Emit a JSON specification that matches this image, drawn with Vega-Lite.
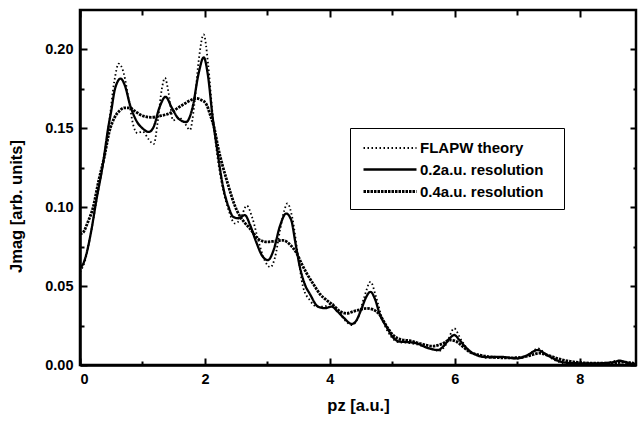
{
  "$schema": "https://vega.github.io/schema/vega-lite/v6.json",
  "width": 556,
  "height": 355,
  "autosize": {"type": "none"},
  "padding": {"left": 80, "top": 10, "right": 2, "bottom": 57},
  "background": "white",
  "config": {
    "font": "Liberation Sans",
    "view": {"stroke": "black", "strokeWidth": 2.5},
    "axis": {
      "labelFont": "Liberation Sans",
      "labelFontWeight": "bold",
      "labelFontSize": 14.5,
      "labelColor": "black",
      "titleFont": "Liberation Sans",
      "titleFontWeight": "bold",
      "titleFontSize": 16.5,
      "titleColor": "black",
      "domainColor": "black",
      "domainWidth": 2.5,
      "tickColor": "black",
      "tickWidth": 2,
      "grid": false
    }
  },
  "data": {
    "values": [
      {"p": 0, "J": 0.062, "series": "0.2a.u. resolution"},
      {"p": 0.05, "J": 0.064, "series": "0.2a.u. resolution"},
      {"p": 0.1, "J": 0.07, "series": "0.2a.u. resolution"},
      {"p": 0.18, "J": 0.085, "series": "0.2a.u. resolution"},
      {"p": 0.26, "J": 0.104, "series": "0.2a.u. resolution"},
      {"p": 0.37, "J": 0.128, "series": "0.2a.u. resolution"},
      {"p": 0.45, "J": 0.15, "series": "0.2a.u. resolution"},
      {"p": 0.5, "J": 0.161, "series": "0.2a.u. resolution"},
      {"p": 0.56, "J": 0.175, "series": "0.2a.u. resolution"},
      {"p": 0.65, "J": 0.1815, "series": "0.2a.u. resolution"},
      {"p": 0.72, "J": 0.177, "series": "0.2a.u. resolution"},
      {"p": 0.8, "J": 0.165, "series": "0.2a.u. resolution"},
      {"p": 0.9, "J": 0.155, "series": "0.2a.u. resolution"},
      {"p": 1.0, "J": 0.15, "series": "0.2a.u. resolution"},
      {"p": 1.1, "J": 0.1477, "series": "0.2a.u. resolution"},
      {"p": 1.18, "J": 0.151, "series": "0.2a.u. resolution"},
      {"p": 1.27, "J": 0.163, "series": "0.2a.u. resolution"},
      {"p": 1.37, "J": 0.17, "series": "0.2a.u. resolution"},
      {"p": 1.47, "J": 0.163, "series": "0.2a.u. resolution"},
      {"p": 1.58, "J": 0.156, "series": "0.2a.u. resolution"},
      {"p": 1.7, "J": 0.154, "series": "0.2a.u. resolution"},
      {"p": 1.8, "J": 0.163, "series": "0.2a.u. resolution"},
      {"p": 1.9, "J": 0.185, "series": "0.2a.u. resolution"},
      {"p": 1.98, "J": 0.195, "series": "0.2a.u. resolution"},
      {"p": 2.05, "J": 0.183, "series": "0.2a.u. resolution"},
      {"p": 2.12, "J": 0.158, "series": "0.2a.u. resolution"},
      {"p": 2.19, "J": 0.138, "series": "0.2a.u. resolution"},
      {"p": 2.29, "J": 0.113, "series": "0.2a.u. resolution"},
      {"p": 2.38, "J": 0.1, "series": "0.2a.u. resolution"},
      {"p": 2.45, "J": 0.094, "series": "0.2a.u. resolution"},
      {"p": 2.53, "J": 0.093, "series": "0.2a.u. resolution"},
      {"p": 2.64, "J": 0.095, "series": "0.2a.u. resolution"},
      {"p": 2.72, "J": 0.089, "series": "0.2a.u. resolution"},
      {"p": 2.82, "J": 0.078, "series": "0.2a.u. resolution"},
      {"p": 2.92, "J": 0.069, "series": "0.2a.u. resolution"},
      {"p": 3.01, "J": 0.0665, "series": "0.2a.u. resolution"},
      {"p": 3.1, "J": 0.073, "series": "0.2a.u. resolution"},
      {"p": 3.2, "J": 0.088, "series": "0.2a.u. resolution"},
      {"p": 3.3, "J": 0.096, "series": "0.2a.u. resolution"},
      {"p": 3.38, "J": 0.092, "series": "0.2a.u. resolution"},
      {"p": 3.45, "J": 0.077, "series": "0.2a.u. resolution"},
      {"p": 3.52, "J": 0.062, "series": "0.2a.u. resolution"},
      {"p": 3.6, "J": 0.051, "series": "0.2a.u. resolution"},
      {"p": 3.68, "J": 0.045, "series": "0.2a.u. resolution"},
      {"p": 3.81, "J": 0.037, "series": "0.2a.u. resolution"},
      {"p": 3.92, "J": 0.036, "series": "0.2a.u. resolution"},
      {"p": 4.03, "J": 0.037, "series": "0.2a.u. resolution"},
      {"p": 4.12, "J": 0.034, "series": "0.2a.u. resolution"},
      {"p": 4.22, "J": 0.03, "series": "0.2a.u. resolution"},
      {"p": 4.35, "J": 0.026, "series": "0.2a.u. resolution"},
      {"p": 4.42, "J": 0.028, "series": "0.2a.u. resolution"},
      {"p": 4.5, "J": 0.035, "series": "0.2a.u. resolution"},
      {"p": 4.58, "J": 0.043, "series": "0.2a.u. resolution"},
      {"p": 4.65, "J": 0.0464, "series": "0.2a.u. resolution"},
      {"p": 4.72, "J": 0.042, "series": "0.2a.u. resolution"},
      {"p": 4.8, "J": 0.032, "series": "0.2a.u. resolution"},
      {"p": 4.91, "J": 0.024, "series": "0.2a.u. resolution"},
      {"p": 5.0, "J": 0.018, "series": "0.2a.u. resolution"},
      {"p": 5.12, "J": 0.0148, "series": "0.2a.u. resolution"},
      {"p": 5.25, "J": 0.0145, "series": "0.2a.u. resolution"},
      {"p": 5.39, "J": 0.0137, "series": "0.2a.u. resolution"},
      {"p": 5.55, "J": 0.011, "series": "0.2a.u. resolution"},
      {"p": 5.73, "J": 0.0095, "series": "0.2a.u. resolution"},
      {"p": 5.82, "J": 0.012, "series": "0.2a.u. resolution"},
      {"p": 5.92, "J": 0.017, "series": "0.2a.u. resolution"},
      {"p": 5.99, "J": 0.019, "series": "0.2a.u. resolution"},
      {"p": 6.07, "J": 0.016, "series": "0.2a.u. resolution"},
      {"p": 6.18, "J": 0.011, "series": "0.2a.u. resolution"},
      {"p": 6.29, "J": 0.0074, "series": "0.2a.u. resolution"},
      {"p": 6.51, "J": 0.005, "series": "0.2a.u. resolution"},
      {"p": 6.72, "J": 0.0052, "series": "0.2a.u. resolution"},
      {"p": 7.0, "J": 0.0042, "series": "0.2a.u. resolution"},
      {"p": 7.15, "J": 0.006, "series": "0.2a.u. resolution"},
      {"p": 7.33, "J": 0.0095, "series": "0.2a.u. resolution"},
      {"p": 7.45, "J": 0.007, "series": "0.2a.u. resolution"},
      {"p": 7.65, "J": 0.0027, "series": "0.2a.u. resolution"},
      {"p": 7.85, "J": 0.0012, "series": "0.2a.u. resolution"},
      {"p": 8.2, "J": 0.001, "series": "0.2a.u. resolution"},
      {"p": 8.5, "J": 0.0015, "series": "0.2a.u. resolution"},
      {"p": 8.64, "J": 0.0027, "series": "0.2a.u. resolution"},
      {"p": 8.8, "J": 0.001, "series": "0.2a.u. resolution"},
      {"p": 8.9, "J": 0.0005, "series": "0.2a.u. resolution"},

      {"p": 0, "J": 0.083, "series": "0.4a.u. resolution"},
      {"p": 0.05, "J": 0.084, "series": "0.4a.u. resolution"},
      {"p": 0.12, "J": 0.09, "series": "0.4a.u. resolution"},
      {"p": 0.21, "J": 0.1, "series": "0.4a.u. resolution"},
      {"p": 0.3, "J": 0.117, "series": "0.4a.u. resolution"},
      {"p": 0.39, "J": 0.132, "series": "0.4a.u. resolution"},
      {"p": 0.47, "J": 0.148, "series": "0.4a.u. resolution"},
      {"p": 0.555, "J": 0.157, "series": "0.4a.u. resolution"},
      {"p": 0.63, "J": 0.161, "series": "0.4a.u. resolution"},
      {"p": 0.71, "J": 0.163, "series": "0.4a.u. resolution"},
      {"p": 0.8, "J": 0.163, "series": "0.4a.u. resolution"},
      {"p": 0.875, "J": 0.161, "series": "0.4a.u. resolution"},
      {"p": 1.0, "J": 0.158, "series": "0.4a.u. resolution"},
      {"p": 1.14, "J": 0.157, "series": "0.4a.u. resolution"},
      {"p": 1.3, "J": 0.158, "series": "0.4a.u. resolution"},
      {"p": 1.46, "J": 0.16, "series": "0.4a.u. resolution"},
      {"p": 1.57, "J": 0.163, "series": "0.4a.u. resolution"},
      {"p": 1.67, "J": 0.1655, "series": "0.4a.u. resolution"},
      {"p": 1.78, "J": 0.168, "series": "0.4a.u. resolution"},
      {"p": 1.86, "J": 0.169, "series": "0.4a.u. resolution"},
      {"p": 1.94, "J": 0.168, "series": "0.4a.u. resolution"},
      {"p": 2.02, "J": 0.1655, "series": "0.4a.u. resolution"},
      {"p": 2.08, "J": 0.159, "series": "0.4a.u. resolution"},
      {"p": 2.15, "J": 0.15, "series": "0.4a.u. resolution"},
      {"p": 2.21, "J": 0.138, "series": "0.4a.u. resolution"},
      {"p": 2.35, "J": 0.117, "series": "0.4a.u. resolution"},
      {"p": 2.51, "J": 0.098, "series": "0.4a.u. resolution"},
      {"p": 2.62, "J": 0.091, "series": "0.4a.u. resolution"},
      {"p": 2.72, "J": 0.0865, "series": "0.4a.u. resolution"},
      {"p": 2.85, "J": 0.08, "series": "0.4a.u. resolution"},
      {"p": 2.99, "J": 0.078, "series": "0.4a.u. resolution"},
      {"p": 3.12, "J": 0.0785, "series": "0.4a.u. resolution"},
      {"p": 3.25, "J": 0.079, "series": "0.4a.u. resolution"},
      {"p": 3.37, "J": 0.076, "series": "0.4a.u. resolution"},
      {"p": 3.47, "J": 0.0707, "series": "0.4a.u. resolution"},
      {"p": 3.55, "J": 0.064, "series": "0.4a.u. resolution"},
      {"p": 3.63, "J": 0.058, "series": "0.4a.u. resolution"},
      {"p": 3.74, "J": 0.051, "series": "0.4a.u. resolution"},
      {"p": 3.84, "J": 0.045, "series": "0.4a.u. resolution"},
      {"p": 3.95, "J": 0.041, "series": "0.4a.u. resolution"},
      {"p": 4.05, "J": 0.038, "series": "0.4a.u. resolution"},
      {"p": 4.16, "J": 0.034, "series": "0.4a.u. resolution"},
      {"p": 4.27, "J": 0.0327, "series": "0.4a.u. resolution"},
      {"p": 4.38, "J": 0.034, "series": "0.4a.u. resolution"},
      {"p": 4.48, "J": 0.035, "series": "0.4a.u. resolution"},
      {"p": 4.59, "J": 0.0359, "series": "0.4a.u. resolution"},
      {"p": 4.7, "J": 0.035, "series": "0.4a.u. resolution"},
      {"p": 4.8, "J": 0.0317, "series": "0.4a.u. resolution"},
      {"p": 4.9, "J": 0.025, "series": "0.4a.u. resolution"},
      {"p": 5.01, "J": 0.019, "series": "0.4a.u. resolution"},
      {"p": 5.15, "J": 0.016, "series": "0.4a.u. resolution"},
      {"p": 5.28, "J": 0.0154, "series": "0.4a.u. resolution"},
      {"p": 5.45, "J": 0.0135, "series": "0.4a.u. resolution"},
      {"p": 5.65, "J": 0.012, "series": "0.4a.u. resolution"},
      {"p": 5.8, "J": 0.0135, "series": "0.4a.u. resolution"},
      {"p": 5.92, "J": 0.0158, "series": "0.4a.u. resolution"},
      {"p": 6.02, "J": 0.015, "series": "0.4a.u. resolution"},
      {"p": 6.13, "J": 0.0116, "series": "0.4a.u. resolution"},
      {"p": 6.25, "J": 0.008, "series": "0.4a.u. resolution"},
      {"p": 6.4, "J": 0.0063, "series": "0.4a.u. resolution"},
      {"p": 6.6, "J": 0.005, "series": "0.4a.u. resolution"},
      {"p": 6.85, "J": 0.0045, "series": "0.4a.u. resolution"},
      {"p": 7.05, "J": 0.0048, "series": "0.4a.u. resolution"},
      {"p": 7.2, "J": 0.006, "series": "0.4a.u. resolution"},
      {"p": 7.35, "J": 0.0075, "series": "0.4a.u. resolution"},
      {"p": 7.5, "J": 0.006, "series": "0.4a.u. resolution"},
      {"p": 7.7, "J": 0.0035, "series": "0.4a.u. resolution"},
      {"p": 7.9, "J": 0.002, "series": "0.4a.u. resolution"},
      {"p": 8.2, "J": 0.0012, "series": "0.4a.u. resolution"},
      {"p": 8.5, "J": 0.0012, "series": "0.4a.u. resolution"},
      {"p": 8.7, "J": 0.0018, "series": "0.4a.u. resolution"},
      {"p": 8.9, "J": 0.0008, "series": "0.4a.u. resolution"},

      {"p": 0, "J": 0.059, "series": "FLAPW theory"},
      {"p": 0.08, "J": 0.066, "series": "FLAPW theory"},
      {"p": 0.18, "J": 0.085, "series": "FLAPW theory"},
      {"p": 0.28, "J": 0.108, "series": "FLAPW theory"},
      {"p": 0.38, "J": 0.13, "series": "FLAPW theory"},
      {"p": 0.47, "J": 0.155, "series": "FLAPW theory"},
      {"p": 0.55, "J": 0.18, "series": "FLAPW theory"},
      {"p": 0.62, "J": 0.191, "series": "FLAPW theory"},
      {"p": 0.7, "J": 0.185, "series": "FLAPW theory"},
      {"p": 0.78, "J": 0.168, "series": "FLAPW theory"},
      {"p": 0.86, "J": 0.151, "series": "FLAPW theory"},
      {"p": 0.92, "J": 0.147, "series": "FLAPW theory"},
      {"p": 1.0, "J": 0.148, "series": "FLAPW theory"},
      {"p": 1.1, "J": 0.143, "series": "FLAPW theory"},
      {"p": 1.18, "J": 0.14, "series": "FLAPW theory"},
      {"p": 1.25, "J": 0.156, "series": "FLAPW theory"},
      {"p": 1.31, "J": 0.175, "series": "FLAPW theory"},
      {"p": 1.36, "J": 0.182, "series": "FLAPW theory"},
      {"p": 1.42, "J": 0.172, "series": "FLAPW theory"},
      {"p": 1.49, "J": 0.155, "series": "FLAPW theory"},
      {"p": 1.58, "J": 0.157, "series": "FLAPW theory"},
      {"p": 1.68, "J": 0.153, "series": "FLAPW theory"},
      {"p": 1.76, "J": 0.149, "series": "FLAPW theory"},
      {"p": 1.83, "J": 0.165, "series": "FLAPW theory"},
      {"p": 1.9, "J": 0.193, "series": "FLAPW theory"},
      {"p": 1.98, "J": 0.2095, "series": "FLAPW theory"},
      {"p": 2.05, "J": 0.191, "series": "FLAPW theory"},
      {"p": 2.12, "J": 0.16, "series": "FLAPW theory"},
      {"p": 2.2, "J": 0.132, "series": "FLAPW theory"},
      {"p": 2.27, "J": 0.115, "series": "FLAPW theory"},
      {"p": 2.38, "J": 0.098, "series": "FLAPW theory"},
      {"p": 2.48, "J": 0.0897, "series": "FLAPW theory"},
      {"p": 2.56, "J": 0.092, "series": "FLAPW theory"},
      {"p": 2.67, "J": 0.101, "series": "FLAPW theory"},
      {"p": 2.76, "J": 0.093, "series": "FLAPW theory"},
      {"p": 2.86, "J": 0.078, "series": "FLAPW theory"},
      {"p": 2.96, "J": 0.066, "series": "FLAPW theory"},
      {"p": 3.05, "J": 0.062, "series": "FLAPW theory"},
      {"p": 3.12, "J": 0.068, "series": "FLAPW theory"},
      {"p": 3.2, "J": 0.085, "series": "FLAPW theory"},
      {"p": 3.27, "J": 0.098, "series": "FLAPW theory"},
      {"p": 3.32, "J": 0.1024, "series": "FLAPW theory"},
      {"p": 3.4, "J": 0.093, "series": "FLAPW theory"},
      {"p": 3.48, "J": 0.072, "series": "FLAPW theory"},
      {"p": 3.57, "J": 0.0496, "series": "FLAPW theory"},
      {"p": 3.68, "J": 0.041, "series": "FLAPW theory"},
      {"p": 3.79, "J": 0.037, "series": "FLAPW theory"},
      {"p": 3.9, "J": 0.037, "series": "FLAPW theory"},
      {"p": 4.03, "J": 0.039, "series": "FLAPW theory"},
      {"p": 4.12, "J": 0.035, "series": "FLAPW theory"},
      {"p": 4.25, "J": 0.028, "series": "FLAPW theory"},
      {"p": 4.35, "J": 0.0253, "series": "FLAPW theory"},
      {"p": 4.45, "J": 0.03, "series": "FLAPW theory"},
      {"p": 4.55, "J": 0.043, "series": "FLAPW theory"},
      {"p": 4.65, "J": 0.0527, "series": "FLAPW theory"},
      {"p": 4.74, "J": 0.043, "series": "FLAPW theory"},
      {"p": 4.84, "J": 0.029, "series": "FLAPW theory"},
      {"p": 4.96, "J": 0.019, "series": "FLAPW theory"},
      {"p": 5.1, "J": 0.0145, "series": "FLAPW theory"},
      {"p": 5.25, "J": 0.014, "series": "FLAPW theory"},
      {"p": 5.4, "J": 0.013, "series": "FLAPW theory"},
      {"p": 5.6, "J": 0.0105, "series": "FLAPW theory"},
      {"p": 5.75, "J": 0.009, "series": "FLAPW theory"},
      {"p": 5.86, "J": 0.013, "series": "FLAPW theory"},
      {"p": 5.99, "J": 0.0232, "series": "FLAPW theory"},
      {"p": 6.1, "J": 0.016, "series": "FLAPW theory"},
      {"p": 6.22, "J": 0.0095, "series": "FLAPW theory"},
      {"p": 6.35, "J": 0.0065, "series": "FLAPW theory"},
      {"p": 6.55, "J": 0.0045, "series": "FLAPW theory"},
      {"p": 6.8, "J": 0.0045, "series": "FLAPW theory"},
      {"p": 7.0, "J": 0.004, "series": "FLAPW theory"},
      {"p": 7.18, "J": 0.0065, "series": "FLAPW theory"},
      {"p": 7.33, "J": 0.0105, "series": "FLAPW theory"},
      {"p": 7.45, "J": 0.007, "series": "FLAPW theory"},
      {"p": 7.6, "J": 0.003, "series": "FLAPW theory"},
      {"p": 7.8, "J": 0.001, "series": "FLAPW theory"},
      {"p": 8.1, "J": 0.0008, "series": "FLAPW theory"},
      {"p": 8.4, "J": 0.001, "series": "FLAPW theory"},
      {"p": 8.6, "J": 0.0028, "series": "FLAPW theory"},
      {"p": 8.75, "J": 0.0015, "series": "FLAPW theory"},
      {"p": 8.9, "J": 0.0005, "series": "FLAPW theory"}
    ]
  },
  "layer": [
    {
      "mark": {"type": "line", "color": "black", "interpolate": "monotone", "clip": true},
      "encoding": {
        "x": {
          "field": "p", "type": "quantitative",
          "scale": {"domain": [0, 8.9], "nice": false, "zero": false},
          "axis": {
            "orient": "bottom",
            "values": [0, 1, 2, 3, 4, 5, 6, 7, 8],
            "labelExpr": "datum.value % 2 === 0 ? datum.label : ''",
            "tickSize": {"condition": {"test": "datum.value % 2 === 0", "value": -7}, "value": -4},
            "labelPadding": 14,
            "title": "pz [a.u.]",
            "titlePadding": 12
          }
        },
        "y": {
          "field": "J", "type": "quantitative",
          "scale": {"domain": [0, 0.225], "nice": false},
          "axis": {
            "orient": "left",
            "values": [0, 0.025, 0.05, 0.075, 0.1, 0.125, 0.15, 0.175, 0.2],
            "format": ".2f",
            "labelExpr": "(round(datum.value*1000) % 50 === 0) ? datum.label : ''",
            "tickSize": {"condition": {"test": "round(datum.value*1000) % 50 === 0", "value": -7}, "value": -4},
            "labelPadding": 14,
            "title": "Jmag [arb. units]",
            "titleX": -64,
            "titleY": 196,
            "titleBaseline": "middle",
            "titleAngle": -90
          }
        },
        "strokeDash": {
          "field": "series", "type": "nominal",
          "scale": {
            "domain": ["FLAPW theory", "0.2a.u. resolution", "0.4a.u. resolution"],
            "range": [[1.5, 2.5], [1, 0], [2.5, 1]]
          },
          "legend": {
            "title": "\u00a0",
            "titleOrient": "right",
            "titlePadding": 12,
            "titleFontSize": 15,
            "orient": "none",
            "legendX": 270,
            "legendY": 118,
            "strokeColor": "black",
            "fillColor": "white",
            "padding": 9,
            "symbolType": "M-0.7,0H4.6",
            "symbolSize": 400,
            "symbolStrokeColor": "black",
            "symbolStrokeWidth": 1.4,
            "labelFont": "Liberation Sans",
            "labelFontWeight": "bold",
            "labelFontSize": 15,
            "labelColor": "black",
            "labelOffset": 38,
            "rowPadding": 2
          }
        },
        "strokeWidth": {
          "field": "series", "type": "nominal",
          "scale": {
            "domain": ["FLAPW theory", "0.2a.u. resolution", "0.4a.u. resolution"],
            "range": [1.8, 2.8, 1.6]
          },
          "legend": null
        }
      }
    },
    {
      "mark": {"type": "line", "opacity": 0},
      "encoding": {
        "x": {
          "field": "p", "type": "quantitative",
          "axis": {
            "orient": "top",
            "values": [0, 1, 2, 3, 4, 5, 6, 7, 8],
            "labels": false,
            "domain": false,
            "title": null,
            "tickSize": {"condition": {"test": "datum.value % 2 === 0", "value": -7}, "value": -5}
          }
        },
        "y": {
          "field": "J", "type": "quantitative",
          "axis": {
            "orient": "right",
            "values": [0, 0.025, 0.05, 0.075, 0.1, 0.125, 0.15, 0.175, 0.2],
            "labels": false,
            "domain": false,
            "title": null,
            "tickSize": {"condition": {"test": "round(datum.value*1000) % 50 === 0", "value": -6}, "value": -3}
          }
        },
        "detail": {"field": "series"}
      }
    }
  ],
  "resolve": {"axis": {"x": "independent", "y": "independent"}}
}
